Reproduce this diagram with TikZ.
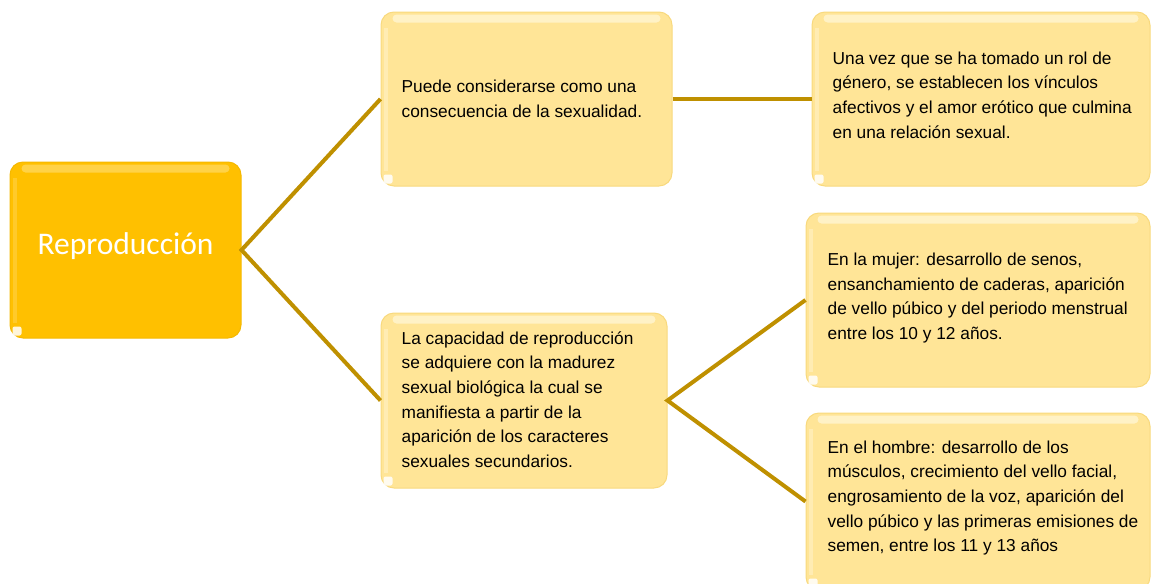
\documentclass[tikz,border=0pt]{standalone}
\usepackage{fontspec}
\setmainfont{Liberation Sans}
\newfontfamily\calib{Carlito}
\definecolor{rootfill}{HTML}{FFC000}
\definecolor{rootedge}{HTML}{F5B800}
\definecolor{roothl}{HTML}{FFD247}
\definecolor{boxfill}{HTML}{FFE597}
\definecolor{boxedge}{HTML}{F8D97E}
\definecolor{boxhl}{HTML}{FFF2C6}
\definecolor{linkc}{HTML}{BF9000}
\tikzset{
  cbox/.style={draw=boxedge, line width=1pt, fill=boxfill, rounded corners=13pt, inner sep=0pt},
  rootbox/.style={draw=rootedge, line width=1pt, fill=rootfill, rounded corners=13pt, inner sep=0pt},
  roottxt/.style={inner sep=0pt, text=white, font=\calib\fontsize{31.5}{36}\selectfont},
  txt/.style={anchor=west, align=left, inner sep=0pt, text=black,
    font=\fontsize{17.3}{24.6}\selectfont},
  link/.style={draw=linkc, line width=4pt, line join=miter},
}
\begin{document}
\begin{tikzpicture}[x=1pt,y=-1pt]
\useasboundingbox (0,0) rectangle (1152,584);
% boxes
\node[rootbox, minimum width=231pt, minimum height=176pt] (root) at (125.5,250) {};
\node[cbox, minimum width=291pt, minimum height=174pt] (b1) at (526.5,99) {};
\node[cbox, minimum width=286pt, minimum height=175pt] (b2) at (524,400.5) {};
\node[cbox, minimum width=338pt, minimum height=174pt] (r1) at (981,99) {};
\node[cbox, minimum width=344pt, minimum height=174pt] (r2) at (978,300) {};
\node[cbox, minimum width=344pt, minimum height=177pt] (r3) at (978,501.5) {};
% glossy highlights
\foreach \n in {b1,b2,r1,r2,r3}{
  \fill[boxhl, rounded corners=4pt] ([xshift=12pt,yshift=-3pt]\n.north west) rectangle ([xshift=-12pt,yshift=-11pt]\n.north east);
  \fill[boxhl, opacity=.6] ([xshift=3pt,yshift=-16pt]\n.north west) rectangle ([xshift=7pt,yshift=16pt]\n.south west);
  \fill[white, opacity=.85, rounded corners=2pt] ([xshift=3pt,yshift=3pt]\n.south west) rectangle ++(9pt,9pt);
}
\fill[roothl, rounded corners=4pt] ([xshift=12pt,yshift=-3pt]root.north west) rectangle ([xshift=-12pt,yshift=-11pt]root.north east);
\fill[roothl, opacity=.6] ([xshift=3pt,yshift=-16pt]root.north west) rectangle ([xshift=7pt,yshift=16pt]root.south west);
\fill[white, opacity=.85, rounded corners=2pt] ([xshift=3pt,yshift=3pt]root.south west) rectangle ++(9pt,9pt);
% texts
\node[roottxt] (t0) at ([yshift=4pt]root.center) {Reproducción};
\node[txt] (t1) at ([xshift=21pt]b1.west) {Puede considerarse como una\\consecuencia de la sexualidad.};
\node[txt] (t2) at ([xshift=21pt,yshift=1pt]b2.west) {La capacidad de reproducción\\se adquiere con la madurez\\sexual biológica la cual se\\manifiesta a partir de la\\aparición de los caracteres\\sexuales secundarios.};
\node[txt] (t3) at ([xshift=21pt,yshift=4pt]r1.west) {Una vez que se ha tomado un rol de\\género, se establecen los vínculos\\afectivos y el amor erótico que culmina\\en una relación sexual.};
\node[txt] (t4) at ([xshift=22pt,yshift=2pt]r2.west) {En la mujer: desarrollo de senos,\\ensanchamiento de caderas, aparición\\de vello púbico y del periodo menstrual\\entre los 10 y 12 años.};
\node[txt] (t5) at ([xshift=22pt,yshift=3.5pt]r3.west) {En el hombre: desarrollo de los\\músculos, crecimiento del vello facial,\\engrosamiento de la voz, aparición del\\vello púbico y las primeras emisiones de\\semen, entre los 11 y 13 años};
% connectors
\draw[link] (b1.west) -- (root.east) -- (b2.west);
\draw[link] (b1.east) -- (r1.west);
\draw[link] (r2.west) -- (b2.east) -- (r3.west);
\end{tikzpicture}
\end{document}
